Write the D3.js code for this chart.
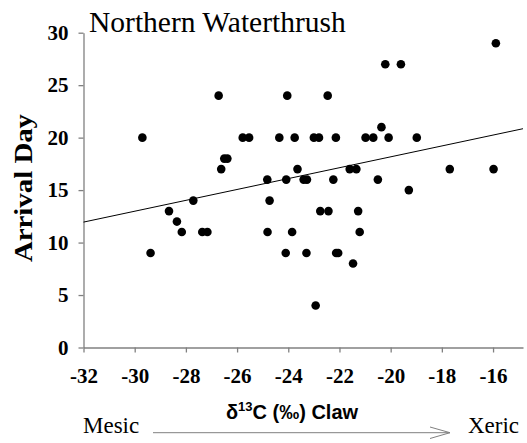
<!DOCTYPE html>
<html><head><meta charset="utf-8">
<script src="https://cdn.jsdelivr.net/npm/d3@7"></script>
<style>
html,body{margin:0;padding:0;background:#fff;}
svg{display:block;}
</style></head>
<body>
<script>
// ---- data ----
const title = "Northern Waterthrush";
const xTicks = [-32, -30, -28, -26, -24, -22, -20, -18, -16];
const yTicks = [0, 5, 10, 15, 20, 25, 30];
const claw13C = [
  -15.89,
  -20.21, -19.6,
  -26.72, -24.04, -22.46,
  -20.36,
  -29.7, -25.78, -25.53, -24.35, -23.75, -23.0, -22.8, -22.14, -20.98, -20.68, -20.08, -18.98,
  -26.5, -26.38,
  -26.62, -23.64, -21.6, -21.34, -17.69, -15.98,
  -24.82, -24.08, -23.4, -23.27, -22.24, -20.5,
  -19.29,
  -27.71, -24.73,
  -28.66, -22.75, -22.43, -21.27,
  -28.35,
  -28.16, -27.36, -27.16, -24.81, -23.85, -21.21,
  -29.38, -24.1, -23.29, -22.13, -22.05,
  -21.47,
  -22.93
];
const arrivalDay = [
  29,
  27, 27,
  24, 24, 24,
  21,
  20, 20, 20, 20, 20, 20, 20, 20, 20, 20, 20, 20,
  18, 18,
  17, 17, 17, 17, 17, 17,
  16, 16, 16, 16, 16, 16,
  15,
  14, 14,
  13, 13, 13, 13,
  12,
  11, 11, 11, 11, 11, 11,
  9, 9, 9, 9, 9,
  8,
  4
];
const trendX = [-32, -14.83];
const trendY = [11.95, 20.85];

// ---- drawing ----
const W = 527, H = 443;
const svg = d3.select("body").append("svg").attr("width", W).attr("height", H);

const x = d3.scaleLinear().domain([-32, -14.83]).range([83.5, 523]);
const y = d3.scaleLinear().domain([0, 30]).range([347.5, 32.7]);

const axisColor = "#808080";
const serif = "'Liberation Serif','Times New Roman',serif";
const sans = "'Liberation Sans',Arial,sans-serif";

// y axis
const gy = svg.append("g").attr("transform", `translate(${x(-32)},0)`)
  .call(d3.axisLeft(y).tickValues(yTicks).tickSize(5).tickSizeOuter(0).tickPadding(10).tickFormat(d3.format("d")));
gy.attr("font-family", null).attr("font-size", null);
gy.select(".domain").attr("stroke", axisColor).attr("stroke-width", 1.3);
gy.selectAll(".tick line").attr("stroke", axisColor).attr("stroke-width", 1.3);
gy.selectAll(".tick text").style("font-family", serif).style("font-weight", "bold")
  .style("font-size", "21px").attr("fill", "#000");

// x axis
const gx = svg.append("g").attr("transform", `translate(0,${y(0)})`)
  .call(d3.axisBottom(x).tickValues(xTicks).tickSize(5).tickSizeOuter(0).tickPadding(16).tickFormat(d3.format("d")));
gx.attr("font-family", null).attr("font-size", null);
gx.select(".domain").attr("stroke", axisColor).attr("stroke-width", 1.3);
gx.selectAll(".tick line").attr("stroke", axisColor).attr("stroke-width", 1.3);
gx.selectAll(".tick text").style("font-family", serif).style("font-weight", "bold")
  .style("font-size", "21px").attr("fill", "#000").text(d => "-" + Math.abs(d));

// trend line
svg.append("line")
  .attr("x1", x(trendX[0])).attr("y1", y(trendY[0]))
  .attr("x2", x(trendX[1])).attr("y2", y(trendY[1]))
  .attr("stroke", "#000").attr("stroke-width", 1);

// points
const pts = claw13C.map((v, i) => ({x: v, y: arrivalDay[i]}));
svg.append("g").selectAll("circle").data(pts).join("circle")
  .attr("cx", d => x(d.x)).attr("cy", d => y(d.y)).attr("r", 4.3).attr("fill", "#000");

// title
svg.append("text").attr("x", 89).attr("y", 32).style("font-family", serif)
  .style("font-size", "29.5px").attr("fill", "#000").text(title);

// y axis title
svg.append("text").attr("transform", "translate(32,188) rotate(-90)")
  .attr("text-anchor", "middle").style("font-family", serif).style("font-weight", "bold")
  .style("font-size", "25px").attr("textLength", 148).attr("lengthAdjust", "spacingAndGlyphs")
  .attr("fill", "#000").text("Arrival Day");

// x axis title
const xt = svg.append("text").attr("x", 292).attr("y", 419).attr("text-anchor", "middle")
  .style("font-family", sans).style("font-weight", "bold").style("font-size", "20px").attr("fill", "#000");
xt.append("tspan").text("δ");
xt.append("tspan").style("font-size", "13px").attr("dy", -8).text("13");
xt.append("tspan").attr("dy", 8).text("C (‰) Claw");

// Mesic -> Xeric
svg.append("text").attr("x", 83).attr("y", 433).style("font-family", serif)
  .style("font-size", "23px").attr("fill", "#000").text("Mesic");
svg.append("text").attr("x", 468).attr("y", 433).style("font-family", serif)
  .style("font-size", "23px").attr("fill", "#000").text("Xeric");
const ax = svg.append("g").attr("stroke", "#808080").attr("stroke-width", 1).attr("fill", "none");
ax.append("line").attr("x1", 153).attr("y1", 432.7).attr("x2", 450).attr("y2", 432.7);
ax.append("polyline").attr("points", "430,427 450,432.7 430,438.5");
</script>
</body></html>
